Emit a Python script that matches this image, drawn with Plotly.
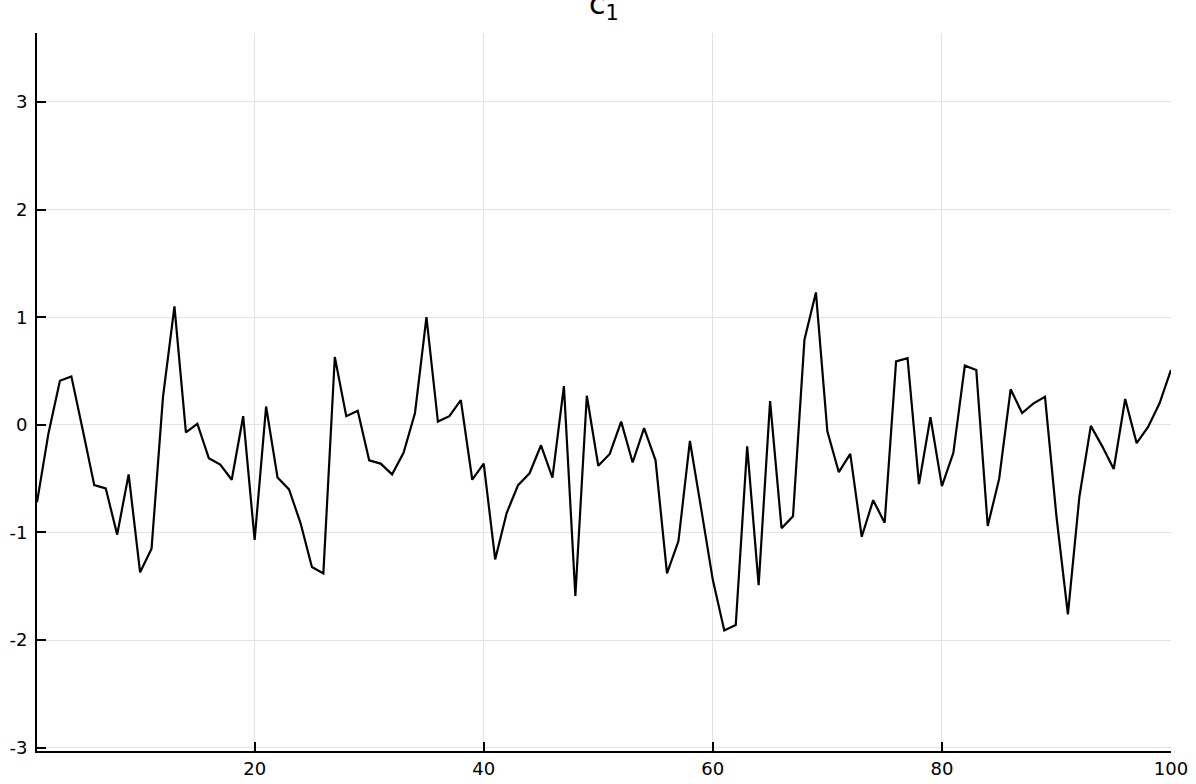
import plotly.graph_objects as go

# series c_1, one value per step 1..100
steps = list(range(1, 101))
c1 = [
    -0.72, -0.08, 0.41, 0.45, -0.05, -0.56, -0.59, -1.02, -0.46, -1.37,
    -1.15, 0.26, 1.10, -0.07, 0.01, -0.31, -0.37, -0.51, 0.08, -1.07,
    0.17, -0.49, -0.60, -0.91, -1.32, -1.38, 0.63, 0.08, 0.13, -0.33,
    -0.36, -0.46, -0.26, 0.11, 1.00, 0.03, 0.08, 0.23, -0.51, -0.36,
    -1.25, -0.82, -0.56, -0.45, -0.19, -0.49, 0.36, -1.59, 0.27, -0.38,
    -0.27, 0.03, -0.35, -0.03, -0.33, -1.38, -1.08, -0.15, -0.79, -1.44,
    -1.91, -1.86, -0.20, -1.49, 0.22, -0.96, -0.85, 0.79, 1.23, -0.06,
    -0.44, -0.27, -1.04, -0.70, -0.91, 0.59, 0.62, -0.55, 0.07, -0.57,
    -0.26, 0.55, 0.51, -0.94, -0.50, 0.33, 0.11, 0.20, 0.26, -0.85,
    -1.76, -0.67, -0.01, -0.20, -0.41, 0.24, -0.17, -0.02, 0.20, 0.51,
]

x_ticks = [20, 40, 60, 80, 100]
y_ticks = [-3, -2, -1, 0, 1, 2, 3]
y_labels = ["-3", "-2", "-1", "0", "1", "2", "3"]

fig = go.Figure()
fig.add_trace(go.Scatter(
    x=steps, y=c1, mode="lines",
    line=dict(color="black", width=2.2),
    showlegend=False,
))

axis_style = dict(
    showline=True, linecolor="black", linewidth=2,
    showgrid=True, gridcolor="#e3e3e3", gridwidth=1,
    ticks="inside", ticklen=9, tickwidth=1.5, tickcolor="black",
    zeroline=False, mirror=False, automargin=False,
    tickfont=dict(family="DejaVu Sans", size=18, color="black"),
)

fig.update_layout(
    width=1196, height=784,
    margin=dict(l=37, r=25, t=33, b=33),
    paper_bgcolor="white", plot_bgcolor="white",
    title=dict(
        text="c<sub>1</sub>", x=0.505, xanchor="center",
        y=0.982, yanchor="bottom",
        font=dict(family="DejaVu Sans", size=30, color="black"),
    ),
)
fig.update_xaxes(range=[1, 100], tickvals=x_ticks, **axis_style)
fig.update_yaxes(range=[-3.03, 3.64], tickvals=y_ticks, ticktext=y_labels,
                 ticklabelstandoff=4, **axis_style)

# drop the page's default body margin so the figure sits at the window corner
fig.write_html("out.html", config={"displayModeBar": False},
               post_script="document.body.style.margin = '0';")
